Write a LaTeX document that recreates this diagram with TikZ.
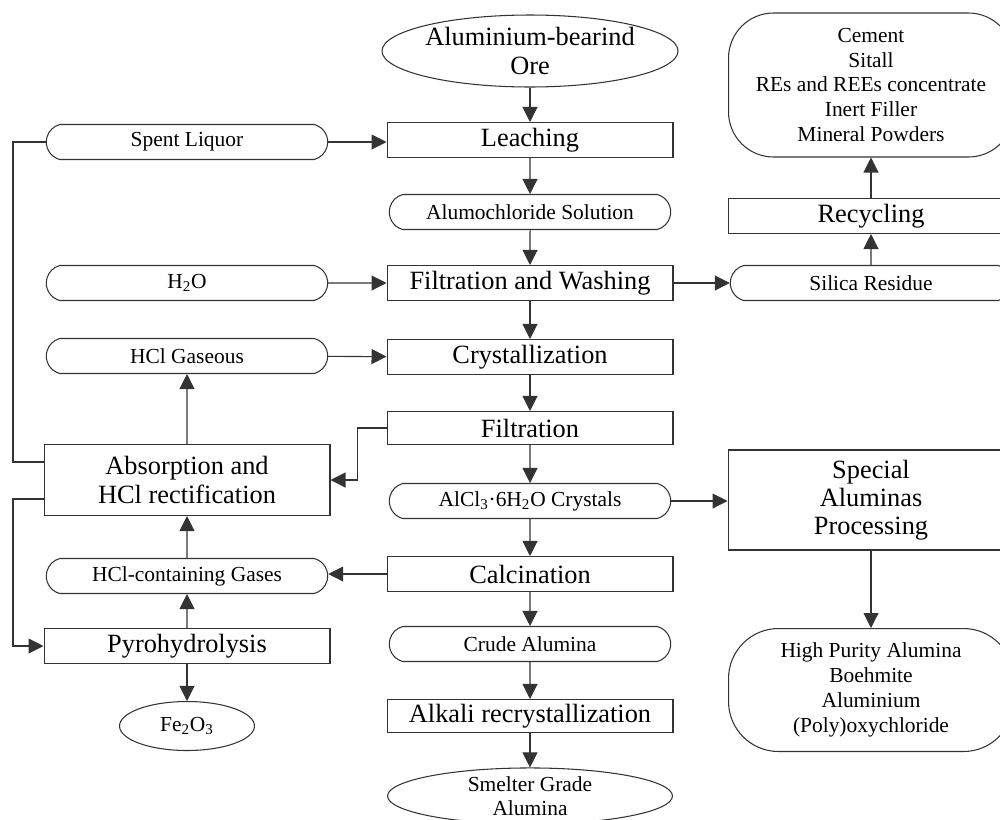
\documentclass[tikz,border=0pt]{standalone}
\usepackage{fontspec}
\setmainfont{Liberation Serif}
\usetikzlibrary{arrows.meta,shapes.geometric,shapes.misc}
\begin{document}
\begin{tikzpicture}[x=0.02cm,y=-0.02cm,line width=0.6pt,draw=black!80,
  >={Triangle[width=0.3cm,length=0.3cm]},
  every node/.style={draw=black!80,line width=0.6pt,align=center,inner sep=1pt},
  proc/.style={rectangle,minimum width=5.72cm,minimum height=0.7cm,font=\fontsize{15}{16}\selectfont},
  flow/.style={rounded rectangle,rounded rectangle arc length=150,minimum width=5.7cm,minimum height=0.7cm,font=\fontsize{12.2}{14}\selectfont},
  feed/.style={ellipse,minimum width=5.7cm,minimum height=1.44cm,inner sep=0pt}]
  \useasboundingbox (0,0) rectangle (1000,819);
  % main line
  \node[feed,font=\fontsize{15}{17}\selectfont] (ore) at (530,51) {Aluminium-bearind\\Ore};
  \node[proc] (leach) at (530,140) {Leaching};
  \node[flow] (alumo) at (530,212) {Alumochloride Solution};
  \node[proc] (filtwash) at (530,283) {Filtration and Washing};
  \node[proc] (cryst) at (530,357) {Crystallization};
  \node[proc,minimum height=0.66cm] (filt) at (530,428) {Filtration};
  \node[flow] (alcl) at (530,501) {AlCl\textsubscript{3}·6H\textsubscript{2}O Crystals};
  \node[proc] (calc) at (530,574) {Calcination};
  \node[flow] (crude) at (530,644) {Crude Alumina};
  \node[proc,minimum height=0.66cm] (alkali) at (530,716) {Alkali recrystallization};
  \node[feed,minimum height=1.12cm,font=\fontsize{12.2}{14}\selectfont] (smelter) at (530,796) {Smelter Grade\\Alumina};
  \draw[->] (ore) edge (leach) (leach) edge (alumo) (alumo) edge (filtwash)
    (filtwash) edge (cryst) (cryst) edge (filt) (filt) edge (alcl)
    (alcl) edge (calc) (calc) edge (crude) (crude) edge (alkali) (alkali) edge (smelter);
  % HCl loop
  \node[flow] (spent) at (187,142) {Spent Liquor};
  \node[flow] (water) at (187,283) {H\textsubscript{2}O};
  \node[flow] (hclgas) at (187,356) {HCl Gaseous};
  \node[proc,minimum height=1.42cm] (absorb) at (187,480) {Absorption and\\HCl rectification};
  \node[flow] (hclmix) at (187,576) {HCl-containing Gases};
  \node[proc] (pyro) at (187,646) {Pyrohydrolysis};
  \node[ellipse,minimum width=2.7cm,minimum height=0.98cm,font=\fontsize{12.2}{14}\selectfont] (fe) at (187,726) {Fe\textsubscript{2}O\textsubscript{3}};
  \coordinate (rail) at (13,480);
  \draw[->] (spent.east) -- (spent.east -| leach.west);
  \draw[->] (water) edge (filtwash) (hclgas) edge (cryst);
  \draw[->] (filt.west) -- ++(-29,0) |- (absorb.east);
  \draw[->] (absorb) edge (hclgas) (hclmix) edge (absorb) (pyro) edge (hclmix) (pyro) edge (fe);
  \draw[->] (calc.west) -- (calc.west -| hclmix.east);
  \draw ([yshift=0.36cm]absorb.west) -- ([yshift=0.36cm]absorb.west -| rail) |- (spent.west);
  \draw[->] ([yshift=-0.38cm]absorb.west) -- ([yshift=-0.38cm]absorb.west -| rail) |- (pyro.west);
  % by-products
  \node[rectangle,rounded corners=0.9cm,minimum width=5.7cm,minimum height=2.88cm,font=\fontsize{12.2}{14.2}\selectfont] (uses) at (871,85) {Cement\\Sitall\\REs and REEs concentrate\\Inert Filler\\Mineral Powders};
  \node[proc] (recyc) at (871,216) {Recycling};
  \node[flow] (silica) at (871,283) {Silica Residue};
  \node[proc,minimum height=2cm,font=\fontsize{15}{16}\selectfont] (special) at (871,500) {Special\\Aluminas\\Processing};
  \node[rectangle,rounded corners=1cm,minimum width=5.7cm,minimum height=2.46cm,font=\fontsize{12.2}{14.2}\selectfont] (hpa) at (871,690) {High Purity Alumina\\Boehmite\\Aluminium\\(Poly)oxychloride};
  \draw[->] (filtwash) edge (silica) (silica) edge (recyc) (recyc) edge (uses);
  \draw[->] (alcl.east) -- (alcl.east -| special.west);
  \draw[->] (special) edge (hpa);
\end{tikzpicture}
\end{document}
